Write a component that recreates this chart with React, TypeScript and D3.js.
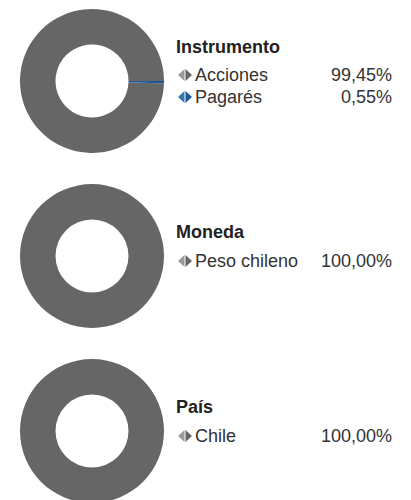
import React from "react";
import * as d3 from "d3";

const sectionTitles = ["Instrumento", "Moneda", "País"];
const instrumentoLabels = ["Acciones", "Pagarés"];
const instrumentoValues = [99.45, 0.55];
const monedaLabels = ["Peso chileno"];
const monedaValues = [100];
const paisLabels = ["Chile"];
const paisValues = [100];
const sliceColors = ["#666666", "#1c5a96"];

const W = 411;
const H = 500;
const locale = d3.formatLocale({ decimal: ",", thousands: ".", grouping: [3], currency: ["$", ""] });
const fmt = locale.format(".2f");

type Section = { title: string; labels: string[]; values: number[] };
const sections: Section[] = [
  { title: sectionTitles[0], labels: instrumentoLabels, values: instrumentoValues },
  { title: sectionTitles[1], labels: monedaLabels, values: monedaValues },
  { title: sectionTitles[2], labels: paisLabels, values: paisValues },
];

const centerY = d3.scalePoint<number>().domain([0, 1, 2]).range([81, 431]);
const cx = 92;
const outerR = 72;
const innerR = 36.5;

function Marker({ x, y, color, light }: { x: number; y: number; color: string; light: string }) {
  const w = 7, h = 6;
  return (
    <g>
      <path d={`M${x},${y} L${x + w - 0.5},${y - h} L${x + w - 0.5},${y + h} Z`} fill={light} />
      <path d={`M${x + 2 * w},${y} L${x + w + 0.5},${y - h} L${x + w + 0.5},${y + h} Z`} fill={color} />
    </g>
  );
}

export default function App() {
  const font = "'Liberation Sans', Arial, Helvetica, sans-serif";
  return (
    <svg width={W} height={H} style={{ position: "absolute", left: 0, top: 0 }} fontFamily={font}>
      <rect width={W} height={H} fill="#ffffff" />
      {sections.map((s, si) => {
        const cy = centerY(si) as number;
        const data = s.values.map((v, i) => ({ v, i }));
        const pie = d3
          .pie<{ v: number; i: number }>()
          .value((d) => d.v)
          .sort((a, b) => a.v - b.v)
          .startAngle(Math.PI / 2)
          .endAngle(Math.PI / 2 + 2 * Math.PI);
        const arc = d3.arc<d3.PieArcDatum<{ v: number; i: number }>>().innerRadius(innerR).outerRadius(outerR);
        const arcs = pie(data);
        const multi = s.values.length > 1;
        const titleY = multi ? cy - 28 : cy - 18;
        const row0 = multi ? cy : cy + 11;
        const rowStep = 22;
        return (
          <g key={si}>
            <g transform={`translate(${cx},${cy})`}>
              {arcs.map((a, k) => (
                <path key={k} d={arc(a) || ""} fill={sliceColors[a.data.i]} />
              ))}
            </g>
            <text x={176} y={titleY} fontSize={18} fontWeight="bold" fill="#222">
              {s.title}
            </text>
            {s.labels.map((lab, i) => {
              const y = row0 + i * rowStep;
              const col = sliceColors[i];
              const light = i === 0 ? "#9a9a9a" : "#3a76b0";
              return (
                <g key={i}>
                  <Marker x={178} y={y - 6} color={col} light={light} />
                  <text x={195} y={y} fontSize={18} fill="#333">
                    {lab}
                  </text>
                  <text x={392} y={y} fontSize={18} fill="#333" textAnchor="end">
                    {fmt(s.values[i]) + "%"}
                  </text>
                </g>
              );
            })}
          </g>
        );
      })}
    </svg>
  );
}
